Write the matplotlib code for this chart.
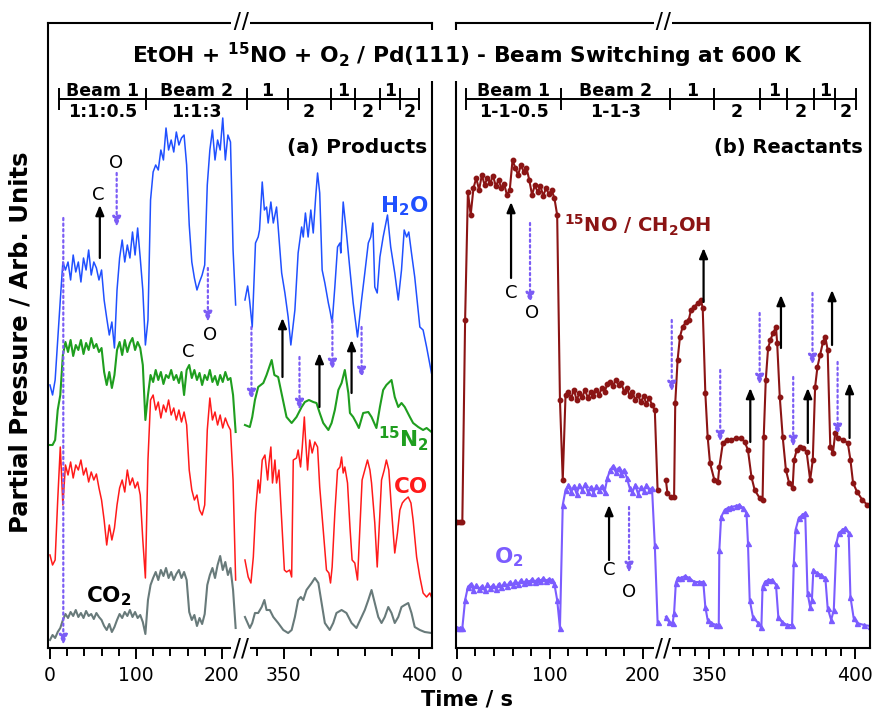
import numpy as np
import matplotlib
matplotlib.use("Agg")
import matplotlib.pyplot as plt

plt.rcParams['font.family'] = ['DejaVu Sans']
plt.rcParams['mathtext.default'] = 'regular'

# ---- time base of the first block (s), shared by both panels ----
t_a = np.arange(0, 217, 3)

# ---- (a) products, first block (0-216 s) ----
h2o_a = [263, 253, 268, 308, 348, 386, 378, 386, 368, 393,
         376, 386, 366, 390, 378, 398, 373, 386, 380, 368,
         378, 348, 330, 313, 326, 300, 358, 390, 408, 386,
         403, 390, 416, 393, 420, 390, 358, 303, 328, 448,
         476, 483, 478, 498, 488, 520, 498, 508, 496, 516,
         503, 510, 513, 483, 423, 386, 370, 358, 366, 373,
         383, 463, 498, 518, 488, 508, 498, 530, 488, 513,
         506, 398, 343]
n2_a = [203, 203, 208, 238, 253, 293, 306, 296, 308, 292,
        303, 298, 308, 294, 305, 298, 310, 300, 304, 296,
        300, 276, 263, 276, 260, 273, 298, 306, 293, 308,
        296, 305, 310, 298, 306, 300, 283, 228, 253, 273,
        266, 278, 268, 276, 264, 273, 270, 278, 268, 273,
        265, 276, 253, 278, 283, 270, 278, 268, 275, 263,
        273, 268, 278, 266, 272, 263, 273, 266, 276, 268,
        270, 253, 216]
co_a = [93, 83, 88, 148, 201, 143, 183, 173, 186, 170,
        183, 178, 188, 173, 180, 166, 176, 168, 174, 160,
        148, 128, 103, 123, 108, 120, 143, 160, 168, 156,
        178, 163, 170, 160, 166, 153, 108, 70, 188, 248,
        253, 238, 246, 230, 243, 236, 248, 233, 240, 228,
        238, 226, 236, 223, 178, 158, 148, 153, 138, 133,
        143, 218, 250, 228, 236, 223, 233, 220, 230, 223,
        218, 168, 68]
co2_a = [8, 13, 10, 16, 20, 28, 34, 30, 36, 32,
         38, 31, 35, 30, 37, 32, 34, 29, 35, 31,
         28, 22, 18, 24, 16, 21, 28, 34, 30, 36,
         32, 38, 31, 36, 30, 33, 26, 14, 48, 63,
         70, 76, 68, 78, 72, 80, 70, 76, 68, 74,
         78, 70, 76, 68, 36, 28, 33, 22, 30, 24,
         34, 63, 73, 80, 70, 83, 92, 78, 86, 73,
         80, 58, 20]

# ---- (a) products, second block (335-405 s) ----
h2o_b_t = [335.7, 336.7, 337.4, 338.4, 339.6, 340.6, 341.1, 342.1, 342.9, 343.7,
           344.3, 345.3, 346.2, 347.4, 348.0, 349.3, 350.5, 351.7, 352.7, 354.2,
           355.4, 356.7, 357.3, 358.1, 359.1, 360.1, 361.0, 361.9, 362.6, 363.4,
           364.3, 365.3, 366.6, 367.3, 368.0, 369.0, 370.0, 370.9, 371.2, 372.1,
           373.3, 374.6, 375.8, 377.4, 378.9, 380.1, 381.4, 382.3, 383.1, 383.8,
           384.7, 385.7, 386.9, 388.5, 389.7, 391.2, 392.5, 393.7, 394.7, 395.6,
           396.4, 397.4, 398.6, 400.5, 401.7, 403.0, 404.8]
h2o_b = [348, 362, 348, 321, 405, 411, 418, 466, 438, 441,
         425, 446, 425, 441, 421, 375, 355, 331, 303, 338,
         395, 421, 411, 435, 411, 438, 415, 451, 475, 455,
         378, 365, 345, 336, 325, 361, 401, 405, 395, 446,
         415, 378, 345, 311, 348, 375, 405, 411, 425, 361,
         355, 391, 411, 433, 401, 375, 348, 378, 418, 411,
         416, 395, 371, 321, 318, 301, 275]
n2_b_t = [335.7, 337.5, 338.4, 339.4, 340.6, 342.5, 343.7, 345.6, 346.6, 348.0,
          349.0, 351.1, 353.0, 354.8, 356.7, 357.9, 359.4, 361.0, 362.2, 363.4,
          364.7, 366.6, 367.8, 369.0, 370.3, 371.5, 372.7, 374.0, 374.6, 375.8,
          377.0, 377.9, 379.5, 381.4, 382.6, 384.4, 385.7, 386.9, 388.1, 390.0,
          391.2, 392.5, 393.7, 394.9, 396.8, 398.0, 399.9, 401.7, 403.0, 404.8]
n2_b = [223, 221, 231, 248, 261, 265, 273, 288, 273, 271,
        258, 231, 225, 231, 241, 246, 248, 246, 245, 235,
        225, 218, 225, 238, 258, 265, 278, 255, 235, 231,
        225, 220, 235, 236, 231, 220, 241, 258, 263, 268,
        251, 241, 245, 241, 231, 225, 221, 218, 220, 216]
co_b_t = [335.7, 336.9, 337.9, 338.8, 339.6, 340.6, 341.2, 342.1, 343.1, 344.1,
          344.6, 345.3, 345.9, 346.8, 347.4, 348.3, 349.3, 350.3, 351.1, 352.3,
          353.0, 353.6, 354.8, 355.4, 356.3, 356.9, 357.7, 358.1, 358.9, 359.7,
          360.6, 361.6, 362.6, 363.4, 364.7, 365.9, 366.8, 367.4, 368.0, 369.0,
          370.0, 370.9, 371.5, 372.1, 372.7, 373.7, 374.6, 375.4, 376.4, 377.4,
          378.3, 379.1, 380.1, 381.1, 382.0, 382.6, 383.8, 384.7, 385.7, 386.3,
          387.3, 388.1, 389.0, 390.0, 391.2, 392.2, 393.1, 394.0, 394.9, 396.2,
          397.2, 398.0, 399.3, 400.5, 401.7, 403.0, 404.2, 404.8]
co_b = [88, 71, 65, 91, 135, 168, 155, 188, 193, 168,
        185, 201, 165, 188, 165, 178, 128, 78, 76, 78,
        71, 188, 190, 198, 181, 200, 231, 211, 178, 208,
        195, 206, 201, 161, 118, 78, 75, 65, 81, 135,
        178, 181, 191, 175, 181, 165, 121, 88, 85, 68,
        121, 168, 178, 188, 178, 165, 125, 81, 135, 168,
        178, 188, 178, 138, 95, 115, 138, 145, 148, 151,
        145, 128, 91, 71, 55, 51, 55, 51]
co2_b_t = [335.7, 337.5, 338.4, 339.4, 340.6, 341.9, 342.9, 343.7, 344.9, 346.2,
           348.0, 349.9, 351.7, 353.0, 354.2, 355.4, 356.4, 357.3, 358.5, 360.4,
           361.6, 362.9, 364.1, 365.3, 367.1, 368.4, 369.6, 371.5, 373.3, 375.2,
           377.0, 378.9, 380.1, 381.4, 382.6, 383.8, 385.1, 386.3, 387.5, 388.8,
           390.0, 391.2, 392.5, 393.7, 394.9, 396.2, 397.4, 398.6, 400.5, 402.3,
           404.8]
co2_b = [31, 20, 25, 35, 35, 41, 48, 38, 38, 31,
         25, 18, 15, 18, 31, 48, 51, 48, 58, 65,
         70, 65, 45, 25, 18, 25, 35, 38, 35, 25,
         20, 31, 38, 48, 58, 45, 31, 25, 31, 41,
         35, 25, 31, 41, 43, 45, 35, 21, 18, 16,
         15]

# ---- (b) reactants, first block (0-216 s) ----
no_a = [126, 126, 126, 328, 456, 433, 460, 470, 458, 473,
        463, 470, 465, 472, 462, 468, 460, 464, 453, 458,
        488, 480, 473, 483, 476, 480, 468, 453, 463, 456,
        462, 452, 460, 454, 458, 450, 433, 248, 168, 253,
        256, 250, 258, 248, 255, 251, 258, 250, 256, 252,
        258, 253, 260, 256, 264, 266, 262, 268, 263, 265,
        256, 260, 252, 256, 248, 253, 246, 252, 244, 250,
        243, 238, 158]
o2_a = [20, 20, 20, 48, 61, 64, 58, 63, 59, 62,
        58, 64, 60, 63, 59, 64, 61, 65, 62, 66,
        63, 67, 64, 68, 65, 68, 66, 69, 66, 69,
        67, 70, 67, 69, 68, 64, 48, 20, 143, 158,
        163, 156, 162, 154, 163, 158, 164, 156, 161, 155,
        162, 158, 162, 156, 170, 178, 182, 176, 180, 174,
        178, 170, 160, 156, 163, 154, 161, 157, 163, 158,
        160, 103, 26]

# ---- (b) reactants, second block (335-405 s) ----
no_b_t = [335.1, 335.6, 336.8, 337.9, 338.3, 339.1, 339.9, 340.8, 342.0, 342.9,
          343.7, 344.8, 346.0, 347.1, 347.7, 348.6, 349.4, 350.2, 351.7, 352.9,
          353.4, 354.6, 356.0, 357.5, 359.2, 360.9, 362.1, 363.2, 364.4, 365.5,
          367.2, 368.2, 368.6, 369.3, 370.1, 370.9, 371.8, 372.8, 373.2, 374.1,
          375.1, 376.2, 377.3, 378.5, 379.0, 379.9, 381.0, 382.2, 383.3, 384.5,
          385.4, 386.2, 387.0, 387.9, 388.9, 389.7, 390.5, 391.4, 392.3, 393.1,
          394.2, 395.8, 397.4, 398.3, 399.2, 400.6, 402.4, 404.1, 405.0]
no_b = [168, 155, 151, 151, 245, 288, 311, 321, 326, 328,
        338, 341, 345, 348, 340, 255, 211, 185, 168, 166,
        181, 205, 208, 208, 210, 210, 206, 198, 171, 158,
        150, 148, 211, 268, 300, 308, 315, 321, 305, 251,
        211, 178, 165, 160, 188, 198, 201, 200, 196, 168,
        188, 261, 281, 293, 306, 311, 298, 201, 195, 215,
        210, 208, 205, 188, 165, 156, 148, 143, 143]
o2_b_t = [335.1, 336.2, 337.4, 337.9, 338.5, 339.1, 340.2, 341.7, 343.1, 344.8,
          346.6, 347.9, 348.6, 349.4, 350.6, 352.3, 353.2, 353.4, 354.0, 355.2,
          356.3, 357.5, 359.0, 360.3, 361.5, 362.7, 363.2, 363.8, 364.9, 366.7,
          367.8, 368.2, 369.0, 370.1, 371.6, 372.8, 373.6, 374.8, 376.6, 378.3,
          378.9, 379.5, 380.6, 381.8, 382.8, 383.6, 384.5, 385.1, 385.6, 386.8,
          388.2, 389.7, 390.5, 391.7, 392.6, 393.5, 394.3, 395.5, 396.6, 397.7,
          398.3, 399.4, 400.6, 402.9, 405.0]
o2_b = [31, 26, 25, 35, 65, 70, 70, 72, 70, 66,
        66, 66, 41, 28, 25, 23, 23, 98, 131, 138,
        140, 141, 142, 143, 140, 135, 105, 48, 31, 25,
        21, 61, 66, 68, 68, 63, 31, 26, 23, 23,
        85, 118, 130, 133, 135, 55, 41, 48, 78, 75,
        73, 70, 40, 28, 38, 105, 115, 118, 120, 115,
        51, 30, 25, 23, 22]

# ---- beam switching scheme ----
switch_t = [10, 112, 336.5, 351.5, 367.4, 376.6, 385.9, 393.1, 400.2]
top_a = ['Beam 1', 'Beam 2', '1', '', '1', '', '1', '']
bot_a = ['1:1:0.5', '1:1:3', '', '2', '', '2', '', '2']
bot_b = ['1-1-0.5', '1-1-3', '', '2', '', '2', '', '2']

# ---- C (up, solid) and O (down, dotted) markers: (time, from, to) ----
c_arrows_a = [(58, 390, 443), (349.6, 271, 330), (363.3, 241, 295), (375.2, 255, 308)]
o_arrows_a = [(15.5, 430, 3), (77.6, 475, 421), (183.7, 380, 326), (338.1, 321, 248),
              (355.9, 291, 238), (368.1, 328, 278), (378.9, 321, 270)]
c_arrows_b = [(58.4, 370, 446), (163.8, 88, 143), (348.0, 346, 400), (364.0, 206, 260),
              (374.5, 300, 353), (383.7, 205, 260), (392.0, 303, 358), (398.0, 210, 265)]
o_arrows_b = [(78.8, 425, 345), (185.3, 141, 75), (337.1, 328, 256), (353.7, 278, 206),
              (367.2, 335, 263), (378.7, 271, 201), (385.3, 355, 283), (393.9, 286, 213)]
letters_a = [('C', 55.8, 453), ('O', 77.0, 485), ('C', 160.5, 296), ('O', 186, 313)]
letters_b = [('C', 58.4, 355), ('O', 80.6, 335), ('C', 163.8, 78), ('O', 185.3, 56)]

c_h2o, c_n2, c_co, c_co2 = '#2050ff', '#1f9e1f', '#ff1a1a', '#687a7a'
c_no, c_o2, c_odot = '#8b1414', '#7b5cff', '#7b5cf5'

# broken time axis: 221-334 s is squeezed out, the late block is stretched
t_knots = [-1e4, 221.0, 334.0, 1e4]
u_knots = [-1e4, 221.0, 221.5, 221.5 + (1e4 - 334.0) * 3.14]


def fwd(t):
    return np.interp(t, t_knots, u_knots)


def inv(u):
    return np.interp(u, u_knots, t_knots)


fig = plt.figure(figsize=(8.76, 7.17), dpi=100)
ax_a = fig.add_axes([48 / 876, 69 / 717, 384 / 876, 625 / 717])
ax_b = fig.add_axes([456 / 876, 69 / 717, 414 / 876, 625 / 717])

minor_a = list(range(20, 200, 20)) + [340, 360, 370, 380, 390]
minor_b = list(range(20, 200, 20)) + [340, 345] + list(range(355, 400, 5))

for ax, xmin, minors in ((ax_a, -2.3, minor_a), (ax_b, -0.8, minor_b)):
    ax.set_xscale('function', functions=(fwd, inv))
    ax.set_xlim(xmin, 405)
    ax.set_ylim(0, 625)
    ax.set_yticks([])
    ax.set_xticks([0, 100, 200, 350, 400], labels=['0', '100', '200', '350', '400'])
    ax.set_xticks(minors, minor=True)
    ax.tick_params(axis='x', which='major', length=8, width=1.4, labelsize=13.5, pad=5)
    ax.tick_params(axis='x', which='minor', length=5.5, width=1.4)
    for sp in ax.spines.values():
        sp.set_linewidth(1.5)

    # scheme of beam switching
    ax.plot([switch_t[0], switch_t[-1]], [549, 549], color='k', lw=1.4)
    ax.vlines(switch_t, 538, 560, color='k', lw=1.4)

    # axis break marks
    for yb in (0, 1):
        ax.text(334.1, yb, '//', transform=ax.get_xaxis_transform(), ha='center',
                va='center', fontsize=17, zorder=5,
                bbox=dict(boxstyle='square,pad=0.05', fc='white', ec='none'))

mids = inv((fwd(np.array(switch_t[:-1])) + fwd(np.array(switch_t[1:]))) / 2)
for ax, bottoms in ((ax_a, bot_a), (ax_b, bot_b)):
    for m, top, bot in zip(mids, top_a, bottoms):
        if top:
            ax.text(m, 552, top, ha='center', va='baseline', fontsize=12.5, fontweight='bold')
        if bot:
            ax.text(m, 531, bot, ha='center', va='baseline', fontsize=12.5, fontweight='bold')

# (a) products
ax_a.plot(t_a, h2o_a, color=c_h2o, lw=1.1)
ax_a.plot(h2o_b_t, h2o_b, color=c_h2o, lw=1.1)
ax_a.plot(t_a, n2_a, color=c_n2, lw=1.5)
ax_a.plot(n2_b_t, n2_b, color=c_n2, lw=1.5)
ax_a.plot(t_a, co_a, color=c_co, lw=1.1)
ax_a.plot(co_b_t, co_b, color=c_co, lw=1.1)
ax_a.plot(t_a, co2_a, color=c_co2, lw=1.5)
ax_a.plot(co2_b_t, co2_b, color=c_co2, lw=1.5)

# (b) reactants
ax_b.plot(t_a, no_a, color=c_no, lw=1.5, marker='o', ms=3.2)
ax_b.plot(no_b_t, no_b, color=c_no, lw=1.5, marker='o', ms=3.2)
ax_b.plot(t_a, o2_a, color=c_o2, lw=1.5, marker='^', ms=3.6)
ax_b.plot(o2_b_t, o2_b, color=c_o2, lw=1.5, marker='^', ms=3.6)


def draw_arrows(ax, arrows, color, ls):
    for t, v0, v1 in arrows:
        ax.annotate('', xy=(t, v1), xytext=(t, v0),
                    arrowprops=dict(arrowstyle='-|>,head_length=0.6,head_width=0.25',
                                    color=color, lw=1.6, linestyle=ls,
                                    shrinkA=0, shrinkB=0))


draw_arrows(ax_a, c_arrows_a, 'k', '-')
draw_arrows(ax_a, o_arrows_a, c_odot, (0, (1, 1.5)))
draw_arrows(ax_b, c_arrows_b, 'k', '-')
draw_arrows(ax_b, o_arrows_b, c_odot, (0, (1, 1.5)))
for ax, letters in ((ax_a, letters_a), (ax_b, letters_b)):
    for s, t, v in letters:
        ax.text(t, v, s, ha='center', va='center', fontsize=13)

# series names
ax_a.text(394.8, 436, 'H$_2$O', color=c_h2o, fontsize=15.5, fontweight='bold',
          ha='center', va='baseline')
ax_a.text(394.4, 201, '$^{15}$N$_2$', color=c_n2, fontsize=15.5, fontweight='bold',
          ha='center', va='baseline')
ax_a.text(397.4, 155, 'CO', color=c_co, fontsize=15.5, fontweight='bold',
          ha='center', va='baseline')
ax_a.text(68, 46, 'CO$_2$', color='k', fontsize=15.5, fontweight='bold',
          ha='center', va='baseline')
ax_b.text(194.4, 416, '$^{15}$NO / CH$_2$OH', color=c_no, fontsize=14, fontweight='bold',
          ha='center', va='baseline')
ax_b.text(56.3, 85, 'O$_2$', color=c_o2, fontsize=15.5, fontweight='bold',
          ha='center', va='baseline')

ax_a.text(0.987, 0.80, '(a) Products', transform=ax_a.transAxes, ha='right', va='center',
          fontsize=14.5, fontweight='bold')
ax_b.text(0.983, 0.80, '(b) Reactants', transform=ax_b.transAxes, ha='right', va='center',
          fontsize=14, fontweight='bold')

fig.text(0.533, 0.923, 'EtOH + $^{15}$NO + O$_2$ / Pd(111) - Beam Switching at 600 K',
         ha='center', va='center', fontsize=15.7, fontweight='bold',
         bbox=dict(boxstyle='square,pad=0.5', fc='white', ec='none'))
fig.text(0.023, 0.523, 'Partial Pressure / Arb. Units', rotation=90, ha='center',
         va='center', fontsize=17.5, fontweight='bold')
fig.text(0.533, 0.024, 'Time / s', ha='center', va='center', fontsize=15, fontweight='bold')

fig.savefig('out.png', dpi=100)
